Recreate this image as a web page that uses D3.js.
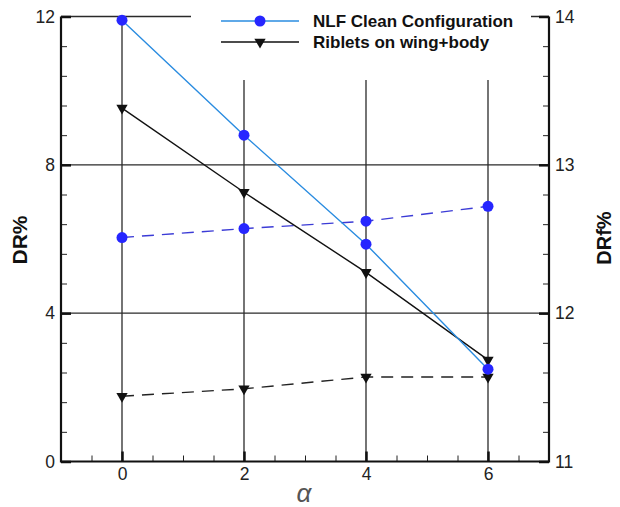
<!DOCTYPE html>
<html lang="en">
<head>
<meta charset="UTF-8">
<title>DR vs alpha</title>
<style>
  body { margin: 0; background: #fff; }
  text { font-family: "Liberation Sans", Arial, sans-serif; }
</style>
</head>
<body>
<svg id="chart" width="620" height="507"></svg>
<script src="https://d3js.org/d3.v7.min.js"></script>
<script>

var alpha = [0, 2, 4, 6];
var nlfDR = [11.9, 8.8, 5.86, 2.49];        // left axis, solid
var ribDR = [9.53, 7.26, 5.1, 2.74];        // left axis, solid
var nlfDRf = [12.51, 12.57, 12.62, 12.72];  // right axis, dashed
var ribDRf = [11.44, 11.49, 11.57, 11.57];  // right axis, dashed
var xTicks = [0, 2, 4, 6];
var yTicks = [0, 4, 8, 12];
var y2Ticks = [11, 12, 13, 14];
var legendNames = ["NLF Clean Configuration", "Riblets on wing+body"];

var svg = d3.select("#chart"),
    pLeft = 61, pRight = 549, pTop = 16.5, pBottom = 461.5;

var x = d3.scaleLinear().domain([-1, 7]).range([pLeft, pRight]);
var y = d3.scaleLinear().domain([0, 12]).range([pBottom, pTop]);
var y2 = d3.scaleLinear().domain([11, 14]).range([pBottom, pTop]);

var gridColor = "#2a2a2a";

// horizontal grid lines
svg.append("g").selectAll("line")
  .data(yTicks.filter(function (d) { return d > 0; }))
  .enter().append("line")
  .attr("x1", pLeft).attr("x2", pRight)
  .attr("y1", function (d) { return y(d); }).attr("y2", function (d) { return y(d); })
  .attr("stroke", gridColor).attr("stroke-width", 1.3);

// vertical grid lines
svg.append("g").selectAll("line")
  .data(xTicks)
  .enter().append("line")
  .attr("x1", function (d) { return x(d); }).attr("x2", function (d) { return x(d); })
  .attr("y1", pTop).attr("y2", pBottom)
  .attr("stroke", gridColor).attr("stroke-width", 1.3);

// legend background hides the grid underneath it
svg.append("rect")
  .attr("x", 191).attr("y", 0).attr("width", 340).attr("height", 80)
  .attr("fill", "#fff");

// axes with inward ticks
var xMinor = d3.range(-1, 7.01, 0.5);
var yMinor = d3.range(0, 12.01, 0.8);
var y2Minor = d3.range(11, 14.01, 0.2);

function styleMinor(g) {
  g.select(".domain").remove();
  g.selectAll("line").attr("stroke", "#222").attr("stroke-width", 1);
}
function styleMajor(g) {
  g.select(".domain").remove();
  g.selectAll("line").attr("stroke", "#111").attr("stroke-width", 2.5);
  g.selectAll("text").attr("font-size", 17.5).attr("fill", "#222")
    .attr("font-family", "Liberation Sans, Arial, sans-serif");
}

svg.append("g")
  .attr("transform", "translate(0," + pBottom + ")")
  .call(d3.axisBottom(x).tickValues(xMinor).tickSize(-6).tickFormat(""))
  .call(styleMinor);

svg.append("g")
  .attr("transform", "translate(0," + pBottom + ")")
  .call(d3.axisBottom(x).tickValues(xTicks).tickSize(-10).tickFormat(d3.format("d")))
  .call(styleMajor)
  .call(function (g) { g.selectAll("text").attr("dy", "0.35em").attr("y", 12); });

svg.append("g")
  .attr("transform", "translate(" + pLeft + ",0)")
  .call(d3.axisLeft(y).tickValues(yMinor).tickSize(-6).tickFormat(""))
  .call(styleMinor);

svg.append("g")
  .attr("transform", "translate(" + pLeft + ",0)")
  .call(d3.axisLeft(y).tickValues(yTicks).tickSize(-10).tickFormat(d3.format("d")))
  .call(styleMajor)
  .call(function (g) { g.selectAll("text").attr("x", -6); });

svg.append("g")
  .attr("transform", "translate(" + pRight + ",0)")
  .call(d3.axisRight(y2).tickValues(y2Minor).tickSize(-6).tickFormat(""))
  .call(styleMinor);

svg.append("g")
  .attr("transform", "translate(" + pRight + ",0)")
  .call(d3.axisRight(y2).tickValues(y2Ticks).tickSize(-10).tickFormat(d3.format("d")))
  .call(styleMajor)
  .call(function (g) { g.selectAll("text").attr("x", 6); });

// frame: left, bottom, right
svg.append("path")
  .attr("d", "M" + pLeft + "," + pTop + "V" + pBottom + "H" + pRight + "V" + pTop)
  .attr("fill", "none").attr("stroke", "#111").attr("stroke-width", 2.2);

// series
var tri = d3.symbol().type(d3.symbolTriangle).size(55);

function drawSeries(vals, scale, color, dash, marker, markerColor) {
  var pts = alpha.map(function (a, i) { return [x(a), scale(vals[i])]; });
  svg.append("path")
    .attr("d", d3.line()(pts))
    .attr("fill", "none").attr("stroke", color).attr("stroke-width", 1.4)
    .attr("stroke-dasharray", dash);
  var g = svg.append("g");
  pts.forEach(function (p) {
    if (marker === "circle") {
      g.append("circle").attr("cx", p[0]).attr("cy", p[1]).attr("r", 5.5).attr("fill", markerColor);
    } else {
      g.append("path").attr("d", tri)
        .attr("transform", "translate(" + p[0] + "," + p[1] + ") rotate(180)")
        .attr("fill", markerColor);
    }
  });
}

drawSeries(nlfDRf, y2, "#3b3bd6", "12,8", "circle", "#2626ff");
drawSeries(ribDRf, y2, "#222", "12,8", "tri", "#111");
drawSeries(ribDR, y, "#111", null, "tri", "#111");
drawSeries(nlfDR, y, "#2a8ce0", null, "circle", "#2626ff");

// legend
var legend = svg.append("g");
legendNames.forEach(function (name, i) {
  var ly = 21 + i * 21;
  legend.append("line").attr("x1", 221).attr("x2", 299).attr("y1", ly).attr("y2", ly)
    .attr("stroke", i === 0 ? "#2a8ce0" : "#111").attr("stroke-width", 1.4);
  if (i === 0) {
    legend.append("circle").attr("cx", 260).attr("cy", ly).attr("r", 5.5).attr("fill", "#2626ff");
  } else {
    legend.append("path").attr("d", tri)
      .attr("transform", "translate(260," + ly + ") rotate(180)").attr("fill", "#111");
  }
  legend.append("text").attr("x", 313).attr("y", ly + 6)
    .attr("font-size", 17).attr("font-weight", "bold").attr("fill", "#111")
    .text(name);
});

// axis titles
svg.append("text")
  .attr("transform", "translate(27,240) rotate(-90)")
  .attr("text-anchor", "middle").attr("font-size", 21).attr("font-weight", "bold")
  .attr("font-family", "DejaVu Sans, sans-serif").attr("fill", "#111")
  .text("DR%");

svg.append("text")
  .attr("transform", "translate(611,238) rotate(-90)")
  .attr("text-anchor", "middle").attr("font-size", 20).attr("font-weight", "bold")
  .attr("font-family", "DejaVu Sans, sans-serif").attr("fill", "#111")
  .text("DRf%");

svg.append("text")
  .attr("x", 304).attr("y", 502)
  .attr("text-anchor", "middle").attr("font-size", 26).attr("font-style", "italic")
  .attr("font-family", "DejaVu Serif, serif").attr("fill", "#555")
  .text("α");

</script>
</body>
</html>
